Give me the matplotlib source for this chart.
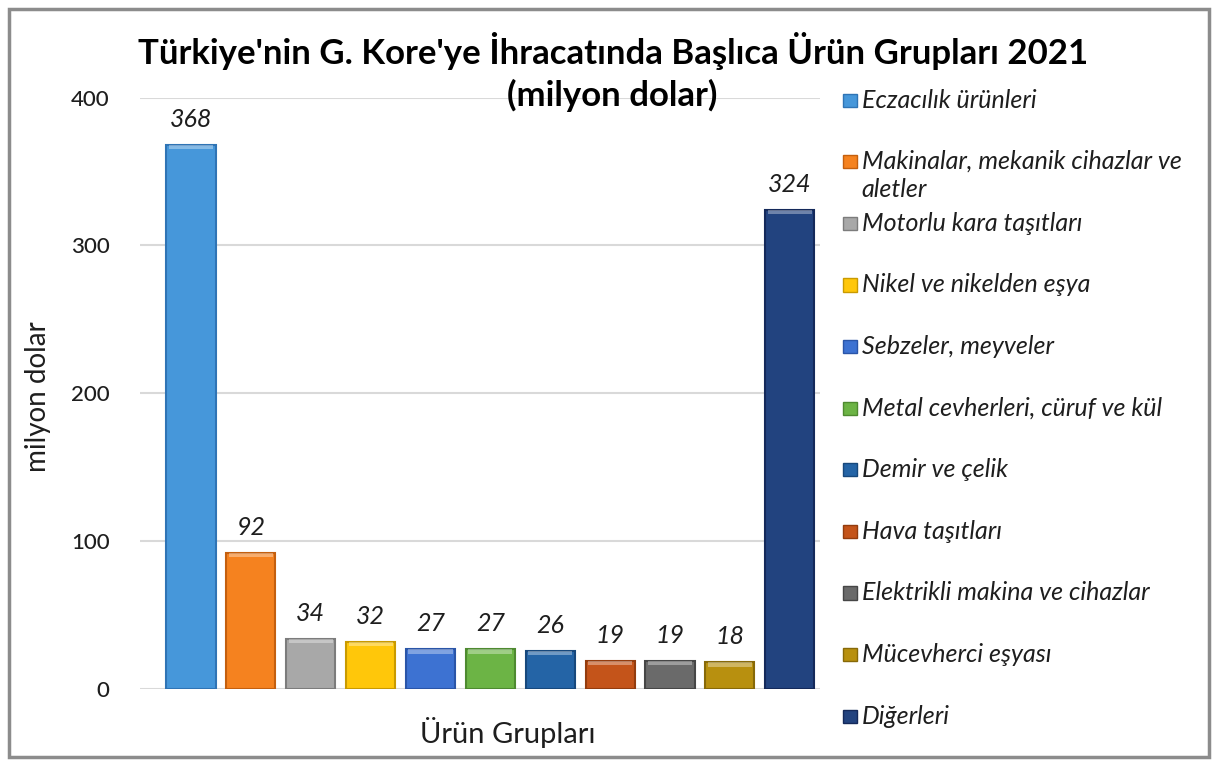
import numpy as np
import matplotlib.pyplot as plt
from matplotlib.patches import Rectangle

plt.rcParams['font.family'] = ['Lato', 'DejaVu Sans']

categories = ['Eczacılık ürünleri', 'Makinalar, mekanik cihazlar ve\naletler',
              'Motorlu kara taşıtları', 'Nikel ve nikelden eşya', 'Sebzeler, meyveler',
              'Metal cevherleri, cüruf ve kül', 'Demir ve çelik', 'Hava taşıtları',
              'Elektrikli makina ve cihazlar', 'Mücevherci eşyası', 'Diğerleri']
values = [368, 92, 34, 32, 27, 27, 26, 19, 19, 18, 324]
colors = ['#4697DA', '#F5821F', '#A8A8A8', '#FFC70A', '#3D72D2', '#6CB445',
          '#2464A6', '#C4541A', '#6A6A6A', '#B8900F', '#22437F']
edges = ['#2F74B5', '#C45F0E', '#7C7C7C', '#C99A00', '#2A55A8', '#4E8A30',
         '#17487C', '#933C0E', '#464646', '#876908', '#14295A']
yticks = [0, 100, 200, 300, 400]

fig = plt.figure(figsize=(12.18, 7.63), dpi=100)
fig.patches.append(Rectangle((0.007, 0.008), 0.986, 0.98, transform=fig.transFigure,
                             fill=False, edgecolor='#8C8C8C', linewidth=2.5))

ax = fig.add_axes([0.115, 0.097, 0.558, 0.775])
x = np.arange(len(values))
bars = ax.bar(x, values, width=0.82, color=colors, edgecolor=edges, linewidth=1.5, zorder=3)

# light bevel on top of each bar
for b in bars:
    ax.bar(b.get_x() + b.get_width() / 2, 3, bottom=b.get_height() - 3, width=b.get_width() * 0.9,
           color='white', alpha=0.35, zorder=4, linewidth=0)

for xi, v in zip(x, values):
    ax.annotate(str(v), (xi, v), xytext=(0, 10), textcoords='offset points',
                ha='center', va='bottom', fontsize=18, style='italic', color='#1E1E1E')

ax.set_xlim(-0.85, 10.5)
ax.set_ylim(0, 400)
ax.set_yticks(yticks)
ax.set_yticklabels([str(t) for t in yticks], fontsize=16, color='#1E1E1E', fontweight='medium')
ax.set_xticks([])
ax.tick_params(axis='y', length=0, pad=22)
ax.grid(axis='y', color='#D9D9D9', linewidth=1.5, zorder=0)
for s in ax.spines.values():
    s.set_visible(False)

fig.text(0.031, 0.48, 'milyon dolar', rotation=90, ha='center', va='center', fontsize=20, color='#1E1E1E')
fig.text(0.417, 0.04, 'Ürün Grupları', ha='center', va='center', fontsize=21, color='#1E1E1E')
fig.text(0.503, 0.933, "Türkiye'nin G. Kore'ye İhracatında Başlıca Ürün Grupları 2021",
         ha='center', va='center', fontsize=25, fontweight='bold', color='black')
fig.text(0.503, 0.875, '(milyon dolar)', ha='center', va='center', fontsize=25,
         fontweight='bold', color='black')

# legend, drawn row by row so the two-line label does not push the rest down
top = 1 - 100 / 763
step = 61.6 / 763
for i, (name, c, e) in enumerate(zip(categories, colors, edges)):
    y = top - i * step
    fig.patches.append(Rectangle((0.692, y - 0.009), 0.0115, 0.0175, transform=fig.transFigure,
                                 facecolor=c, edgecolor=e, linewidth=1))
    if '\n' in name:
        fig.text(0.7075, y + 0.0155, name, ha='left', va='top', fontsize=18, style='italic',
                 color='#1E1E1E', linespacing=1.3)
    else:
        fig.text(0.7075, y, name, ha='left', va='center', fontsize=18, style='italic',
                 color='#1E1E1E')

fig.savefig('out.png', dpi=100)
